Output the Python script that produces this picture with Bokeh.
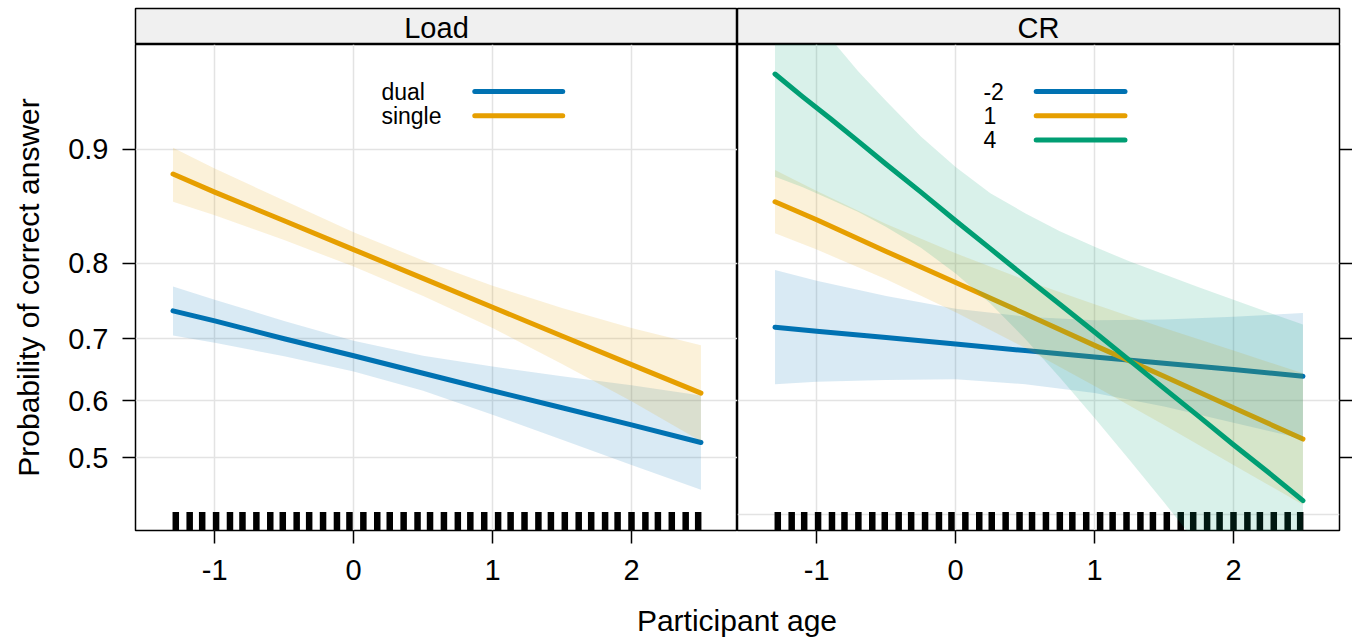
import numpy as np
from bokeh.plotting import figure
from bokeh.models import FixedTicker, CustomJSTickFormatter, Range1d, Div, Spacer
from bokeh.layouts import row, column
from bokeh.embed import file_html
from bokeh.resources import INLINE
from bokeh.core.properties import value

# ---------------- data ----------------
panel_titles = ["Load", "CR"]
age = [-1.3, -1.0, -0.5, 0.0, 0.5, 1.0, 1.5, 2.0, 2.5]

load_levels = ["dual", "single"]
dual_fit = [0.740, 0.726, 0.700, 0.674, 0.646, 0.617, 0.588, 0.558, 0.527]
dual_lower = [0.705, 0.694, 0.673, 0.649, 0.617, 0.576, 0.532, 0.487, 0.443]
dual_upper = [0.772, 0.755, 0.726, 0.697, 0.674, 0.657, 0.641, 0.626, 0.609]
single_fit = [0.883, 0.869, 0.844, 0.815, 0.782, 0.745, 0.704, 0.660, 0.613]
single_lower = [0.861, 0.849, 0.825, 0.796, 0.760, 0.716, 0.661, 0.599, 0.529]
single_upper = [0.901, 0.887, 0.862, 0.833, 0.803, 0.773, 0.744, 0.716, 0.690]

cr_levels = ["-2", "1", "4"]
crm2_fit = [0.717, 0.711, 0.702, 0.692, 0.682, 0.672, 0.662, 0.652, 0.641]
crm2_lower = [0.628, 0.632, 0.635, 0.636, 0.628, 0.613, 0.590, 0.562, 0.533]
crm2_upper = [0.792, 0.779, 0.760, 0.743, 0.732, 0.727, 0.728, 0.732, 0.737]
cr1_fit = [0.861, 0.845, 0.813, 0.777, 0.736, 0.690, 0.641, 0.588, 0.533]
cr1_lower = [0.832, 0.815, 0.781, 0.738, 0.686, 0.625, 0.558, 0.487, 0.417]
cr1_upper = [0.886, 0.870, 0.841, 0.811, 0.780, 0.749, 0.716, 0.682, 0.646]

# the CR = 4 band is strongly curved, so it is read at a finer set of ages
cr4_age = [-1.3, -1.1, -0.9, -0.7, -0.5, -0.25, 0.0, 0.25, 0.5, 0.75,
           1.0, 1.25, 1.5, 1.75, 2.0, 2.25, 2.5]
cr4_fit = [0.939, 0.929, 0.918, 0.905, 0.890, 0.869, 0.844, 0.816, 0.784, 0.749,
           0.710, 0.667, 0.621, 0.573, 0.523, 0.474, 0.424]
cr4_lower = [0.881, 0.873, 0.863, 0.852, 0.838, 0.817, 0.788, 0.750, 0.700, 0.639,
             0.570, 0.496, 0.421, 0.348, 0.282, 0.223, 0.173]
cr4_upper = [0.970, 0.962, 0.952, 0.940, 0.927, 0.908, 0.888, 0.868, 0.851, 0.834,
             0.818, 0.802, 0.787, 0.771, 0.755, 0.738, 0.721]

rug_age = [-1.28, -1.18, -1.09, -0.99, -0.89, -0.80, -0.70, -0.60, -0.51, -0.41,
           -0.32, -0.22, -0.12, -0.03, 0.07, 0.17, 0.26, 0.36, 0.46, 0.55,
           0.65, 0.75, 0.84, 0.94, 1.04, 1.13, 1.23, 1.33, 1.42, 1.52,
           1.62, 1.71, 1.81, 1.90, 2.00, 2.10, 2.19, 2.29, 2.39, 2.48]

y_ticks = [0.5, 0.6, 0.7, 0.8, 0.9]
load_hgrid = [0.5, 0.6, 0.7, 0.8, 0.9]
cr_hgrid = [0.4, 0.6, 0.8]
x_ticks = [-1, 0, 1, 2]

# ---------------- styling ----------------
FONT = "Liberation Sans"
BLUE, ORANGE, GREEN = "#0072B2", "#E69F00", "#009E73"
X_RANGE = (-1.57, 2.763)
P_RANGE = (0.373, 0.95)
FRAME_W, FRAME_H, STRIP_H = 602, 486, 36
LEFT_BORDER, RIGHT_BORDER, TOP_BORDER = 135, 13, 8


def logit(p):
    p = np.asarray(p, dtype=float)
    return np.log(p / (1.0 - p))


Y_LO, Y_HI = float(logit(P_RANGE[0])), float(logit(P_RANGE[1]))
PX_PER_LOGIT = FRAME_H / (Y_HI - Y_LO)


def style_axis(ax):
    ax.axis_line_color = None
    ax.major_tick_line_color = "black"
    ax.major_tick_line_width = 1.5
    ax.major_tick_in = 0
    ax.major_tick_out = 13
    ax.minor_tick_line_color = None
    ax.major_label_text_font = FONT
    ax.major_label_text_font_size = "29px"
    ax.major_label_text_color = "black"


def make_panel(left, hgrid):
    p = figure(frame_width=FRAME_W, frame_height=FRAME_H,
               x_range=Range1d(*X_RANGE), y_range=Range1d(Y_LO, Y_HI),
               output_backend="svg", toolbar_location=None,
               y_axis_location="left" if left else "right",
               min_border_left=LEFT_BORDER if left else 0,
               min_border_right=0 if left else RIGHT_BORDER,
               min_border_top=0, min_border_bottom=74,
               background_fill_color="white", border_fill_color="white")
    p.outline_line_color = "black"
    p.outline_line_width = 1.5
    for ax in p.xaxis:
        style_axis(ax)
        ax.ticker = FixedTicker(ticks=x_ticks)
        ax.formatter = CustomJSTickFormatter(code="return tick.toFixed(0);")
        ax.major_label_standoff = 16
    for ax in p.yaxis:
        style_axis(ax)
        ax.ticker = FixedTicker(ticks=logit(y_ticks).tolist())
        if left:
            ax.formatter = CustomJSTickFormatter(
                code="return (1/(1+Math.exp(-tick))).toFixed(1);")
            ax.major_label_standoff = 14
            ax.axis_label = "Probability of correct answer"
            ax.axis_label_text_font = FONT
            ax.axis_label_text_font_size = "30px"
            ax.axis_label_text_font_style = "normal"
            ax.axis_label_text_color = "black"
            ax.axis_label_standoff = 20
        else:
            ax.formatter = CustomJSTickFormatter(code="return '';")
            ax.major_label_standoff = 0
            ax.major_label_text_font_size = "0px"
    p.xgrid.ticker = FixedTicker(ticks=x_ticks)
    p.ygrid.ticker = FixedTicker(ticks=logit(hgrid).tolist())
    p.grid.grid_line_color = "#e3e3e3"
    p.grid.grid_line_width = 1.5
    # rug of observed ages
    rug_h = 18.4 / PX_PER_LOGIT
    p.segment(x0=rug_age, y0=[Y_LO] * len(rug_age), x1=rug_age,
              y1=[Y_LO + rug_h] * len(rug_age),
              line_color="black", line_width=6.5, line_cap="butt")
    return p


def draw_group(p, x, lo, fit, hi, color):
    p.varea(x=x, y1=logit(lo), y2=logit(hi), fill_color=color, fill_alpha=0.15)
    p.line(x=x, y=logit(fit), line_color=color, line_width=5,
           line_cap="round", line_join="round")


def draw_legend(p, labels, colors, text_x, line_x0, line_x1):
    y0 = Y_HI - (91.3 - 44.3) / PX_PER_LOGIT
    dy = 24.2 / PX_PER_LOGIT
    ys = [y0 - i * dy for i in range(len(labels))]
    p.text(x=[text_x] * len(labels), y=ys, text=labels, text_font=value(FONT),
           text_font_size="23px", text_align="left", text_baseline="middle",
           text_color="black")
    p.segment(x0=[line_x0] * len(labels), y0=ys, x1=[line_x1] * len(labels), y1=ys,
              line_color=colors, line_width=5, line_cap="round")


def make_strip(label, left):
    s = figure(frame_width=FRAME_W, frame_height=STRIP_H,
               x_range=Range1d(0, 1), y_range=Range1d(0, 1),
               x_axis_location=None, y_axis_location=None,
               output_backend="svg", toolbar_location=None,
               min_border_left=LEFT_BORDER if left else 0,
               min_border_right=0 if left else RIGHT_BORDER,
               min_border_top=TOP_BORDER, min_border_bottom=0,
               background_fill_color="#f0f0f0", border_fill_color="white")
    s.grid.visible = False
    s.outline_line_color = "black"
    s.outline_line_width = 1.5
    s.text(x=[0.5], y=[0.45], text=[label], text_font=value(FONT),
           text_font_size="29px", text_align="center",
           text_baseline="middle", text_color="black")
    return s


# Load panel
p_load = make_panel(True, load_hgrid)
draw_group(p_load, age, dual_lower, dual_fit, dual_upper, BLUE)
draw_group(p_load, age, single_lower, single_fit, single_upper, ORANGE)
draw_legend(p_load, load_levels, [BLUE, ORANGE], 0.20, 0.872, 1.505)

# CR panel
p_cr = make_panel(False, cr_hgrid)
draw_group(p_cr, age, crm2_lower, crm2_fit, crm2_upper, BLUE)
draw_group(p_cr, age, cr1_lower, cr1_fit, cr1_upper, ORANGE)
draw_group(p_cr, cr4_age, cr4_lower, cr4_fit, cr4_upper, GREEN)
draw_legend(p_cr, cr_levels, [BLUE, ORANGE, GREEN], 0.20, 0.58, 1.219)

strip_load = make_strip(panel_titles[0], True)
strip_cr = make_strip(panel_titles[1], False)

xlabel = Div(
    text=('<div style="text-align:center; margin:0; padding:0; '
          'font-family:\'Liberation Sans\'; font-size:30px; line-height:34px; '
          'color:black; width:1204px;">Participant age</div>'),
    width=1204, height=34, margin=0)

layout = column(row(strip_load, strip_cr),
                row(p_load, p_cr),
                row(Spacer(width=LEFT_BORDER, height=34, margin=0), xlabel))

open("out.html", "w").write(file_html(layout, INLINE))
